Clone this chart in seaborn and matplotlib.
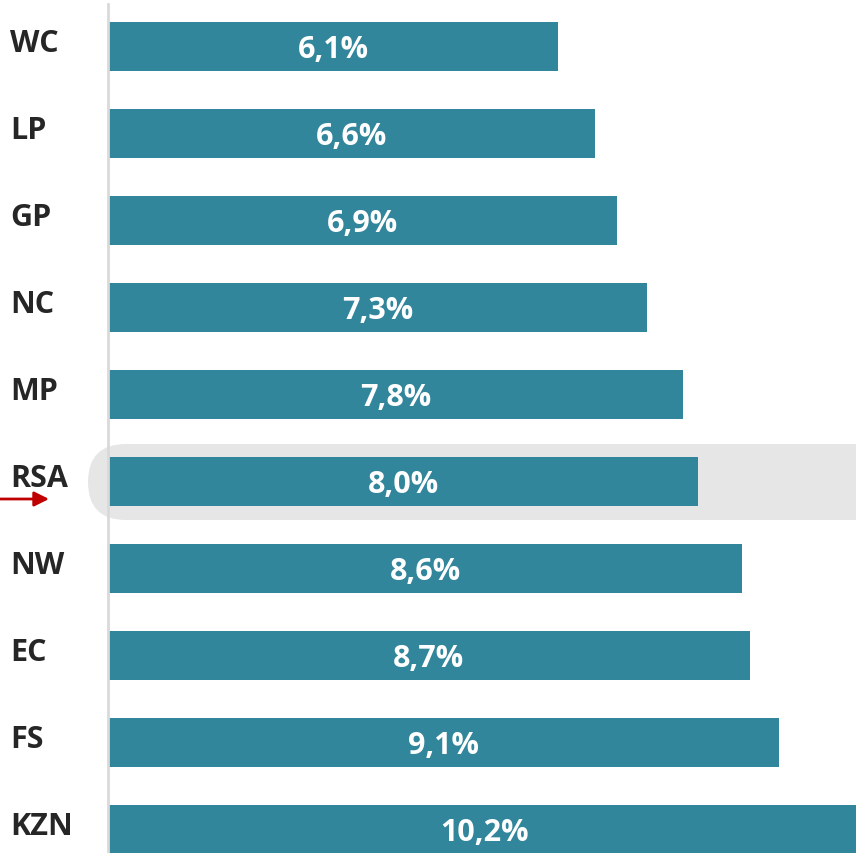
import matplotlib
matplotlib.use("Agg")
from matplotlib import pyplot as plt
from matplotlib import patches, transforms
import pandas as pd
import seaborn as sns

# 数据
regions = ['WC', 'LP', 'GP', 'NC', 'MP', 'RSA', 'NW', 'EC', 'FS', 'KZN']
values = [6.1, 6.6, 6.9, 7.3, 7.8, 8.0, 8.6, 8.7, 9.1, 10.2]
highlight = 'RSA'

bar_color = '#31869B'
text_color = '#262626'

sns.set_style('white')
plt.rcParams['font.family'] = ['Open Sans', 'DejaVu Sans']

df = pd.DataFrame({'region': regions, 'value': values})

fig = plt.figure(figsize=(8.56, 8.54), dpi=100)
ax = fig.add_axes([108 / 856, 0, 1 - 108 / 856, 849 / 854])
ax.patch.set_visible(False)

sns.barplot(data=df, x='value', y='region', orient='h', color=bar_color,
            saturation=1, width=0.563, linewidth=0, ax=ax, zorder=2)

ax.set_xlim(0, 10.14)
ax.set_ylim(9.27, -0.4885)
ax.set_xlabel('')
ax.set_ylabel('')
ax.set_xticks([])
ax.set_yticks([])
for s in ['top', 'right', 'bottom']:
    ax.spines[s].set_visible(False)
ax.spines['left'].set_color('#d9d9d9')
ax.spines['left'].set_linewidth(2)

# 类别标签与数值标签
lab_trans = transforms.blended_transform_factory(fig.transFigure, ax.transData)
for i, (r, v) in enumerate(zip(regions, values)):
    ax.text(10 / 856, i - 0.04, r, transform=lab_trans, ha='left', va='center',
            fontsize=22, fontweight='bold', color=text_color)
    ax.text(v / 2, i + 0.03, f"{v:.1f}%".replace('.', ','), ha='center', va='center',
            fontsize=22, fontweight='bold', color='white', zorder=3)

# 高亮 RSA 的灰色圆角背景
hi = regions.index(highlight)
pill = patches.FancyBboxPatch((88, 333), 900, 76,
                              boxstyle='round,pad=0,rounding_size=38',
                              transform=transforms.IdentityTransform(),
                              facecolor='#e6e6e6', edgecolor='none', zorder=-1)
fig.add_artist(pill)

# 红色箭头
ax.annotate('', xy=(49, 354), xytext=(0, 354), xycoords='figure pixels',
            textcoords='figure pixels',
            arrowprops=dict(arrowstyle='-|>', color='#c00000', lw=2,
                            mutation_scale=22, shrinkA=0, shrinkB=0))

fig.savefig('out.png', dpi=100)
